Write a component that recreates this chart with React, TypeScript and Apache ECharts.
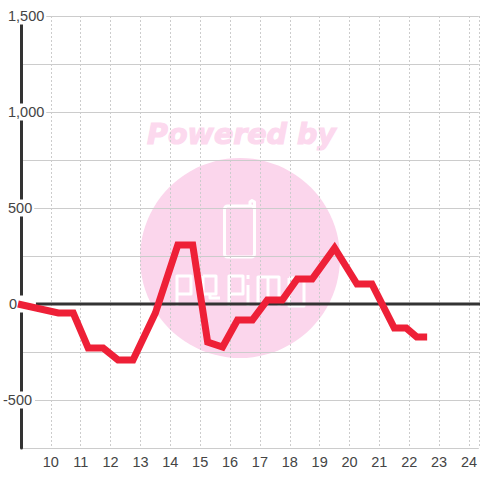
import React, { useEffect, useRef } from "react";
import * as echarts from "echarts";

const hours = [8.9, 10.25, 10.75, 11.25, 11.75, 12.25, 12.75, 13.5, 14.25, 14.75, 15.25, 15.75, 16.25, 16.75, 17.25, 17.75, 18.25, 18.75, 19.5, 20.25, 20.75, 21.5, 21.9, 22.25, 22.6];
const values = [0, -47, -47, -229, -229, -292, -292, -47, 307, 307, -198, -224, -83, -83, 21, 21, 130, 130, 292, 104, 104, -125, -125, -172, -172];
const zeroLineX = [9.5, 25];
const zeroLineY = [0, 0];

const logoLetters: number[][][] = [
  [[177, 306], [177, 276], [191, 276], [191, 294], [177, 294]],
  [[203, 276], [216, 276], [216, 294], [203, 294], [203, 276]],
  [[210, 294], [210, 298], [220, 298]],
  [[229, 306], [229, 276], [243, 276], [243, 294], [229, 294]],
  [[248, 275], [248, 279]],
  [[248, 285], [248, 306]],
  [[258, 306], [258, 277], [279, 277], [279, 306]],
  [[268, 277], [268, 306]],
  [[289, 278], [304, 278], [304, 306], [289, 306], [289, 278]],
];

const fmtY = (v: number) => {
  if (v % 500 !== 0) return "";
  const s = v.toLocaleString("en-US");
  if (v < 0) return `{n|${s}}`;
  if (v === 0) return `{z|${s}}`;
  return `{p|${s}}`;
};

export default function App() {
  const ref = useRef<HTMLDivElement>(null);
  useEffect(() => {
    document.body.style.margin = "0";
    const chart = echarts.init(ref.current!, undefined, { renderer: "svg" });
    const white = { stroke: "#fff", fill: "none", lineWidth: 3, lineJoin: "round" };
    const font = "Liberation Sans";
    const labelColor = "#444";
    chart.setOption({
      animation: false,
      grid: { left: 20, right: 0, top: 16, bottom: 32 },
      graphic: [
        { type: "circle", z: -10, shape: { cx: 240, cy: 258, r: 100 }, style: { fill: "#fbd6ec" }, silent: true },
        {
          type: "text", z: -10, x: 241.5, y: 134,
          style: { text: "Powered by", fill: "#fcd9ee", stroke: "#fcd9ee", lineWidth: 1.2, font: "italic bold 28.5px 'DejaVu Sans'", align: "center", verticalAlign: "middle" },
          silent: true,
        },
        { type: "rect", z: -9, shape: { x: 224.5, y: 206, width: 30, height: 51, r: 3 }, style: white, silent: true },
        { type: "polyline", z: -9, shape: { points: [[250, 206], [250, 202], [252, 200.5], [254.5, 202], [254.5, 210]] }, style: white, silent: true },
        ...logoLetters.map((points) => ({ type: "polyline", z: -9, shape: { points }, style: white, silent: true })),
      ],
      xAxis: {
        type: "value",
        min: 9,
        max: 24.33,
        interval: 1,
        axisLine: { show: false },
        axisTick: { show: false },
        splitLine: { show: true, lineStyle: { color: "#ccc", width: 1, type: [2, 2] } },
        axisLabel: {
          margin: 6,
          color: labelColor,
          fontFamily: font,
          fontSize: 14.5,
          showMinLabel: false,
          showMaxLabel: false,
          hideOverlap: false,
          formatter: (v: number) => (v >= 10 && v <= 24 ? String(v) : ""),
        },
      },
      yAxis: {
        type: "value",
        min: -750,
        max: 1500,
        interval: 250,
        z: 3,
        axisLine: { show: true, lineStyle: { color: "#333", width: 3 } },
        axisTick: { show: false },
        splitLine: { show: true, lineStyle: { color: "#ccc", width: 1 } },
        axisLabel: {
          align: "left",
          margin: 18,
          color: labelColor,
          fontFamily: font,
          fontSize: 14.5,
          hideOverlap: false,
          formatter: fmtY,
          rich: {
            p: { fontFamily: font, fontSize: 14.5, color: labelColor, backgroundColor: "#fff", padding: [1, 2, 1, 5] },
            n: { fontFamily: font, fontSize: 14.5, color: labelColor, backgroundColor: "#fff", padding: [1, 3, 1, 0] },
            z: { fontFamily: font, fontSize: 14.5, color: labelColor, backgroundColor: "#fff", padding: [1, 19, 1, 6] },
          },
        },
      },
      series: [
        {
          type: "line",
          z: 4,
          silent: true,
          symbol: "none",
          clip: false,
          data: zeroLineX.map((x, i) => [x, zeroLineY[i]]),
          lineStyle: { color: "#333", width: 3 },
        },
        {
          type: "line",
          z: 5,
          silent: true,
          symbol: "none",
          clip: false,
          data: hours.map((h, i) => [h, values[i]]),
          lineStyle: { color: "#ee2037", width: 7, join: "miter", cap: "butt" },
        },
      ],
    });
    return () => chart.dispose();
  }, []);
  return <div ref={ref} style={{ width: 480, height: 480 }} />;
}
